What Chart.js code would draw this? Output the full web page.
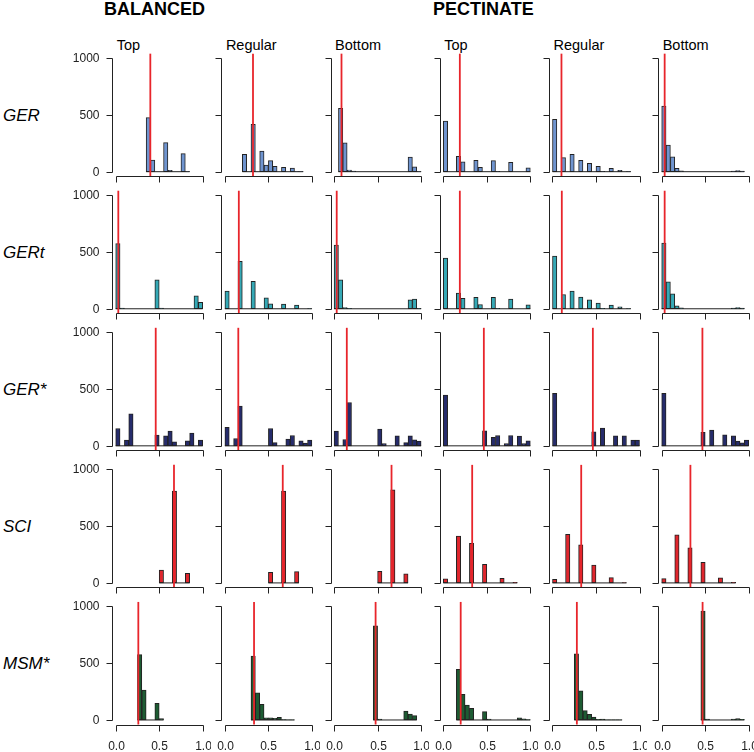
<!DOCTYPE html>
<html>
<head>
<meta charset="utf-8">
<script src="https://cdn.jsdelivr.net/npm/chart.js@4.4.1/dist/chart.umd.min.js"></script>
<style>
  html, body { margin: 0; padding: 0; background: #fff; }
  #page { position: relative; width: 754px; height: 752px; overflow: hidden;
          font-family: "Liberation Sans", Arial, sans-serif; color: #000; }
  #page canvas { position: absolute; }
  .group { position: absolute; font-weight: bold; font-size: 18px; line-height: 1; white-space: nowrap; }
  .pos { position: absolute; font-size: 14.5px; line-height: 1; white-space: nowrap; }
  .measure { position: absolute; font-style: italic; font-size: 17px; line-height: 1; white-space: nowrap; transform: translateY(-50%); }
</style>
</head>
<body>
<div id="page"></div>
<script>
// --- data -----------------------------------------------------------------
const groups = ['BALANCED', 'PECTINATE'];
const positions = ['Top', 'Regular', 'Bottom', 'Top', 'Regular', 'Bottom'];
const measures = ['GER', 'GERt', 'GER*', 'SCI', 'MSM*'];

const binEdges = [0, 0.05, 0.1, 0.15, 0.2, 0.25, 0.3, 0.35, 0.4, 0.45, 0.5,
                  0.55, 0.6, 0.65, 0.7, 0.75, 0.8, 0.85, 0.9, 0.95, 1];
const xTicks = [0, 0.5, 1];
const xTickLabels = ['0.0', '0.5', '1.0'];
const yTicks = [0, 500, 1000];

const _ = null; // bin outside the histogram range

// counts per bin, one array per column (Top, Regular, Bottom x2)
const gerCounts = [
  [_, _, _, _, _, _, _, 476, 103, 0, 0, 256, 12, 0, 0, 159, 2, _, _, _],
  [_, _, _, _, 153, 0, 418, 0, 182, 59, 97, 47, 0, 38, 0, 32, 2, 1, _, _],
  [_, 559, 255, 15, 5, 0, 0, 0, 0, 0, 0, 0, 0, 0, 0, 0, 0, 129, 44, 2],
  [447, 0, 0, 135, 88, 0, 0, 100, 38, 0, 0, 97, 3, 0, 0, 82, 0, 0, 0, 35],
  [462, 0, 124, 0, 153, 0, 100, 0, 74, 0, 47, 3, 0, 29, 0, 12, 0, 1, _, _],
  [579, 235, 132, 29, 8, 0, 0, 0, 0, 0, 0, 0, 0, 0, 0, 0, 5, 10, 5, _]
];
const gertCounts = [
  [574, 5, 0, 0, 0, 0, 0, 0, 0, 256, 5, 0, 0, 0, 0, 0, 0, 0, 115, 56],
  [156, 0, 0, 418, 0, 0, 241, 0, 0, 97, 44, 0, 0, 41, 0, 0, 32, 0, 0, 1],
  [562, 255, 10, 3, 0, 0, 0, 0, 0, 0, 0, 0, 0, 0, 0, 0, 0, 79, 85, 3],
  [447, 0, 0, 138, 91, 0, 0, 100, 38, 0, 0, 100, 3, 0, 0, 85, 0, 0, 0, 35],
  [465, 0, 126, 0, 156, 0, 103, 0, 79, 0, 50, 3, 0, 32, 0, 18, 0, 1, _, _],
  [579, 238, 132, 26, 8, 0, 0, 0, 0, 0, 0, 0, 0, 0, 0, 0, 5, 10, 5, _]
];
const gerStarCounts = [
  [153, 0, 50, 282, 0, 0, 0, 0, 0, 94, 0, 88, 129, 35, 0, 0, 44, 112, 0, 50],
  [162, 0, 65, 350, 0, 0, 0, 0, 0, 0, 153, 29, 0, 0, 59, 91, 0, 44, 24, 50],
  [129, 0, 56, 382, 0, 0, 0, 0, 0, 0, 147, 20, 0, 0, 88, 0, 29, 88, 53, 41],
  [447, 0, 0, 0, 0, 0, 0, 0, 0, 132, 0, 76, 91, 0, 20, 91, 0, 85, 20, 44],
  [462, 0, 0, 0, 0, 0, 0, 0, 0, 124, 0, 156, 0, 0, 88, 0, 88, 0, 50, 50],
  [462, 0, 0, 0, 0, 0, 0, 0, 0, 118, 0, 138, 0, 0, 97, 0, 88, 41, 26, 50]
];
const sciCounts = [
  [_, _, _, _, _, _, _, _, _, _, 114, 0, 0, 810, 0, 0, 85, _, _, _],
  [_, _, _, _, _, _, _, _, _, _, 94, 0, 0, 810, 0, 0, 100, _, _, _],
  [_, _, _, _, _, _, _, _, _, _, 103, 0, 0, 820, 0, 0, 79, _, _, _],
  [35, 0, 0, 412, 0, 0, 348, 0, 0, 164, 0, 0, 0, 41, 0, 0, 5, _, _, _],
  [32, 0, 0, 427, 0, 0, 336, 0, 0, 158, 0, 0, 0, 47, 0, 0, 3, _, _, _],
  [38, 0, 0, 424, 0, 0, 310, 0, 0, 181, 0, 0, 0, 44, 0, 0, 5, _, _, _]
];
const msmCounts = [
  [_, _, _, _, _, 576, 263, 0, 0, 146, 12, _, _, _, _, _, _, _, _, _],
  [_, _, _, _, _, _, 564, 240, 137, 20, 20, 15, 23, 3, 2, 1, _, _, _, _],
  [_, _, _, _, _, _, _, _, _, 830, 8, 0, 0, 0, 0, 0, 79, 53, 38, _],
  [_, _, _, 447, 226, 132, 103, 0, 0, 74, 9, 0, 0, 0, 0, 0, 0, 20, 10, 3],
  [_, _, _, _, _, 582, 256, 82, 50, 26, 6, 8, 2, 2, 1, 1, _, _, _, _],
  [_, _, _, _, _, _, _, _, _, 960, 8, 0, 0, 0, 0, 0, 8, 12, 6, _]
];

// observed value (red line) per column
const gerObserved = [0.398, 0.323, 0.085, 0.19, 0.103, 0.034];
const gertObserved = [0.03, 0.16, 0.03, 0.19, 0.107, 0.034];
const gerStarObserved = [0.46, 0.154, 0.146, 0.466, 0.464, 0.468];
const sciObserved = [0.67, 0.665, 0.66, 0.332, 0.33, 0.33];
const msmObserved = [0.26, 0.335, 0.477, 0.2, 0.28, 0.47];

// --- layout / style ---------------------------------------------------------
const allCounts = [gerCounts, gertCounts, gerStarCounts, sciCounts, msmCounts];
const allObserved = [gerObserved, gertObserved, gerStarObserved, sciObserved, msmObserved];
const barColors = ['#6f94cf', '#35a9b6', '#262c6c', '#e0262d', '#1d5c33'];
const lineRed = '#e8252b';
const ink = '#222';
const FONT = '"Liberation Sans", Arial, sans-serif';

const X0 = 115.7, COL_STEP = 109.2, PX_PER_X = 87;     // x value 0 of first column
const Y0 = 171.7, ROW_STEP = 137.07, PX_PER_Y = 0.1135; // y value 0 of first row
const X_MIN = -0.04, X_MAX = 1.04, Y_MIN = -40, Y_MAX = 1040;

const page = document.getElementById('page');

function addText(cls, text, left, top) {
  const d = document.createElement('div');
  d.className = cls;
  d.textContent = text;
  d.style.left = left + 'px';
  d.style.top = top + 'px';
  page.appendChild(d);
}

addText('group', groups[0], 104, 0);
addText('group', groups[1], 433, 0);
positions.forEach((p, c) => addText('pos', p, X0 + c * COL_STEP + 1, 38));
measures.forEach((m, r) => addText('measure', m, 3, Y0 + r * ROW_STEP - 500 * PX_PER_Y));

// R-like axes: y axis from 0 to 1000, x axis below the plot from 0 to 1
const rAxes = {
  id: 'rAxes',
  afterDraw(chart, args, opts) {
    const { ctx, chartArea } = chart;
    const x = chart.scales.x, y = chart.scales.y;
    const left = Math.round(chartArea.left) + 0.5;
    const bottom = Math.round(chartArea.bottom) + 0.5;
    const px = v => Math.round(x.getPixelForValue(v)) + 0.5;
    const py = v => Math.round(y.getPixelForValue(v)) + 0.5;
    ctx.save();
    ctx.strokeStyle = ink;
    ctx.lineWidth = 1;
    ctx.beginPath();
    ctx.moveTo(left, py(yTicks[0]));
    ctx.lineTo(left, py(yTicks[yTicks.length - 1]));
    yTicks.forEach(v => { ctx.moveTo(left - 6, py(v)); ctx.lineTo(left, py(v)); });
    ctx.moveTo(px(xTicks[0]), bottom);
    ctx.lineTo(px(xTicks[xTicks.length - 1]), bottom);
    xTicks.forEach(v => { ctx.moveTo(px(v), bottom); ctx.lineTo(px(v), bottom + 6); });
    ctx.stroke();
    ctx.fillStyle = ink;
    ctx.font = '12px ' + FONT;
    if (opts.yLabels) {
      ctx.textAlign = 'right';
      ctx.textBaseline = 'middle';
      yTicks.forEach(v => ctx.fillText(String(v), left - 13, py(v)));
    }
    if (opts.xLabels) {
      ctx.textAlign = 'center';
      ctx.textBaseline = 'middle';
      xTicks.forEach((v, i) => ctx.fillText(xTickLabels[i], px(v), bottom + 21));
    }
    ctx.restore();
  }
};

function panel(r, c) {
  const counts = allCounts[r][c];
  const bars = counts.map((n, i) => ({ x: (binEdges[i] + binEdges[i + 1]) / 2, y: n }));
  const first = counts.findIndex(n => n !== null);
  let last = counts.length - 1;
  while (counts[last] === null) last--;
  const obs = allObserved[r][c];

  const plotLeft = X0 + c * COL_STEP + X_MIN * PX_PER_X;
  const plotTop = Y0 + r * ROW_STEP - Y_MAX * PX_PER_Y;
  const plotW = (X_MAX - X_MIN) * PX_PER_X;
  const plotH = (Y_MAX - Y_MIN) * PX_PER_Y;
  const cl = Math.floor(plotLeft - 44), ct = Math.floor(plotTop - 4);
  const W = Math.ceil(plotLeft + plotW + 4) - cl;
  const H = Math.ceil(plotTop + plotH + 34) - ct;
  const padL = plotLeft - cl, padT = plotTop - ct;

  const canvas = document.createElement('canvas');
  canvas.width = W; canvas.height = H;
  canvas.style.left = cl + 'px'; canvas.style.top = ct + 'px';
  canvas.style.width = W + 'px'; canvas.style.height = H + 'px';
  page.appendChild(canvas);

  new Chart(canvas, {
    data: {
      datasets: [
        {
          type: 'line',
          data: [{ x: obs, y: Y_MIN }, { x: obs, y: Y_MAX }],
          borderColor: lineRed, borderWidth: 1.8, pointRadius: 0, clip: false
        },
        {
          type: 'line',
          data: [{ x: binEdges[first], y: 0 }, { x: binEdges[last + 1], y: 0 }],
          borderColor: ink, borderWidth: 1, pointRadius: 0
        },
        {
          type: 'bar',
          data: bars,
          backgroundColor: barColors[r],
          borderColor: ink,
          borderWidth: 1,
          borderSkipped: false,
          barPercentage: 1,
          categoryPercentage: 1
        }
      ]
    },
    options: {
      responsive: false,
      animation: false,
      devicePixelRatio: 1,
      layout: { padding: { left: padL, top: padT, right: W - padL - plotW, bottom: H - padT - plotH } },
      scales: {
        x: { type: 'linear', min: X_MIN, max: X_MAX, offset: false, display: false },
        y: { type: 'linear', min: Y_MIN, max: Y_MAX, display: false }
      },
      plugins: {
        legend: { display: false },
        tooltip: { enabled: false },
        rAxes: { yLabels: c === 0, xLabels: r === measures.length - 1 }
      }
    },
    plugins: [rAxes]
  });
}

for (let r = 0; r < measures.length; r++) {
  for (let c = 0; c < positions.length; c++) panel(r, c);
}
</script>
</body>
</html>
